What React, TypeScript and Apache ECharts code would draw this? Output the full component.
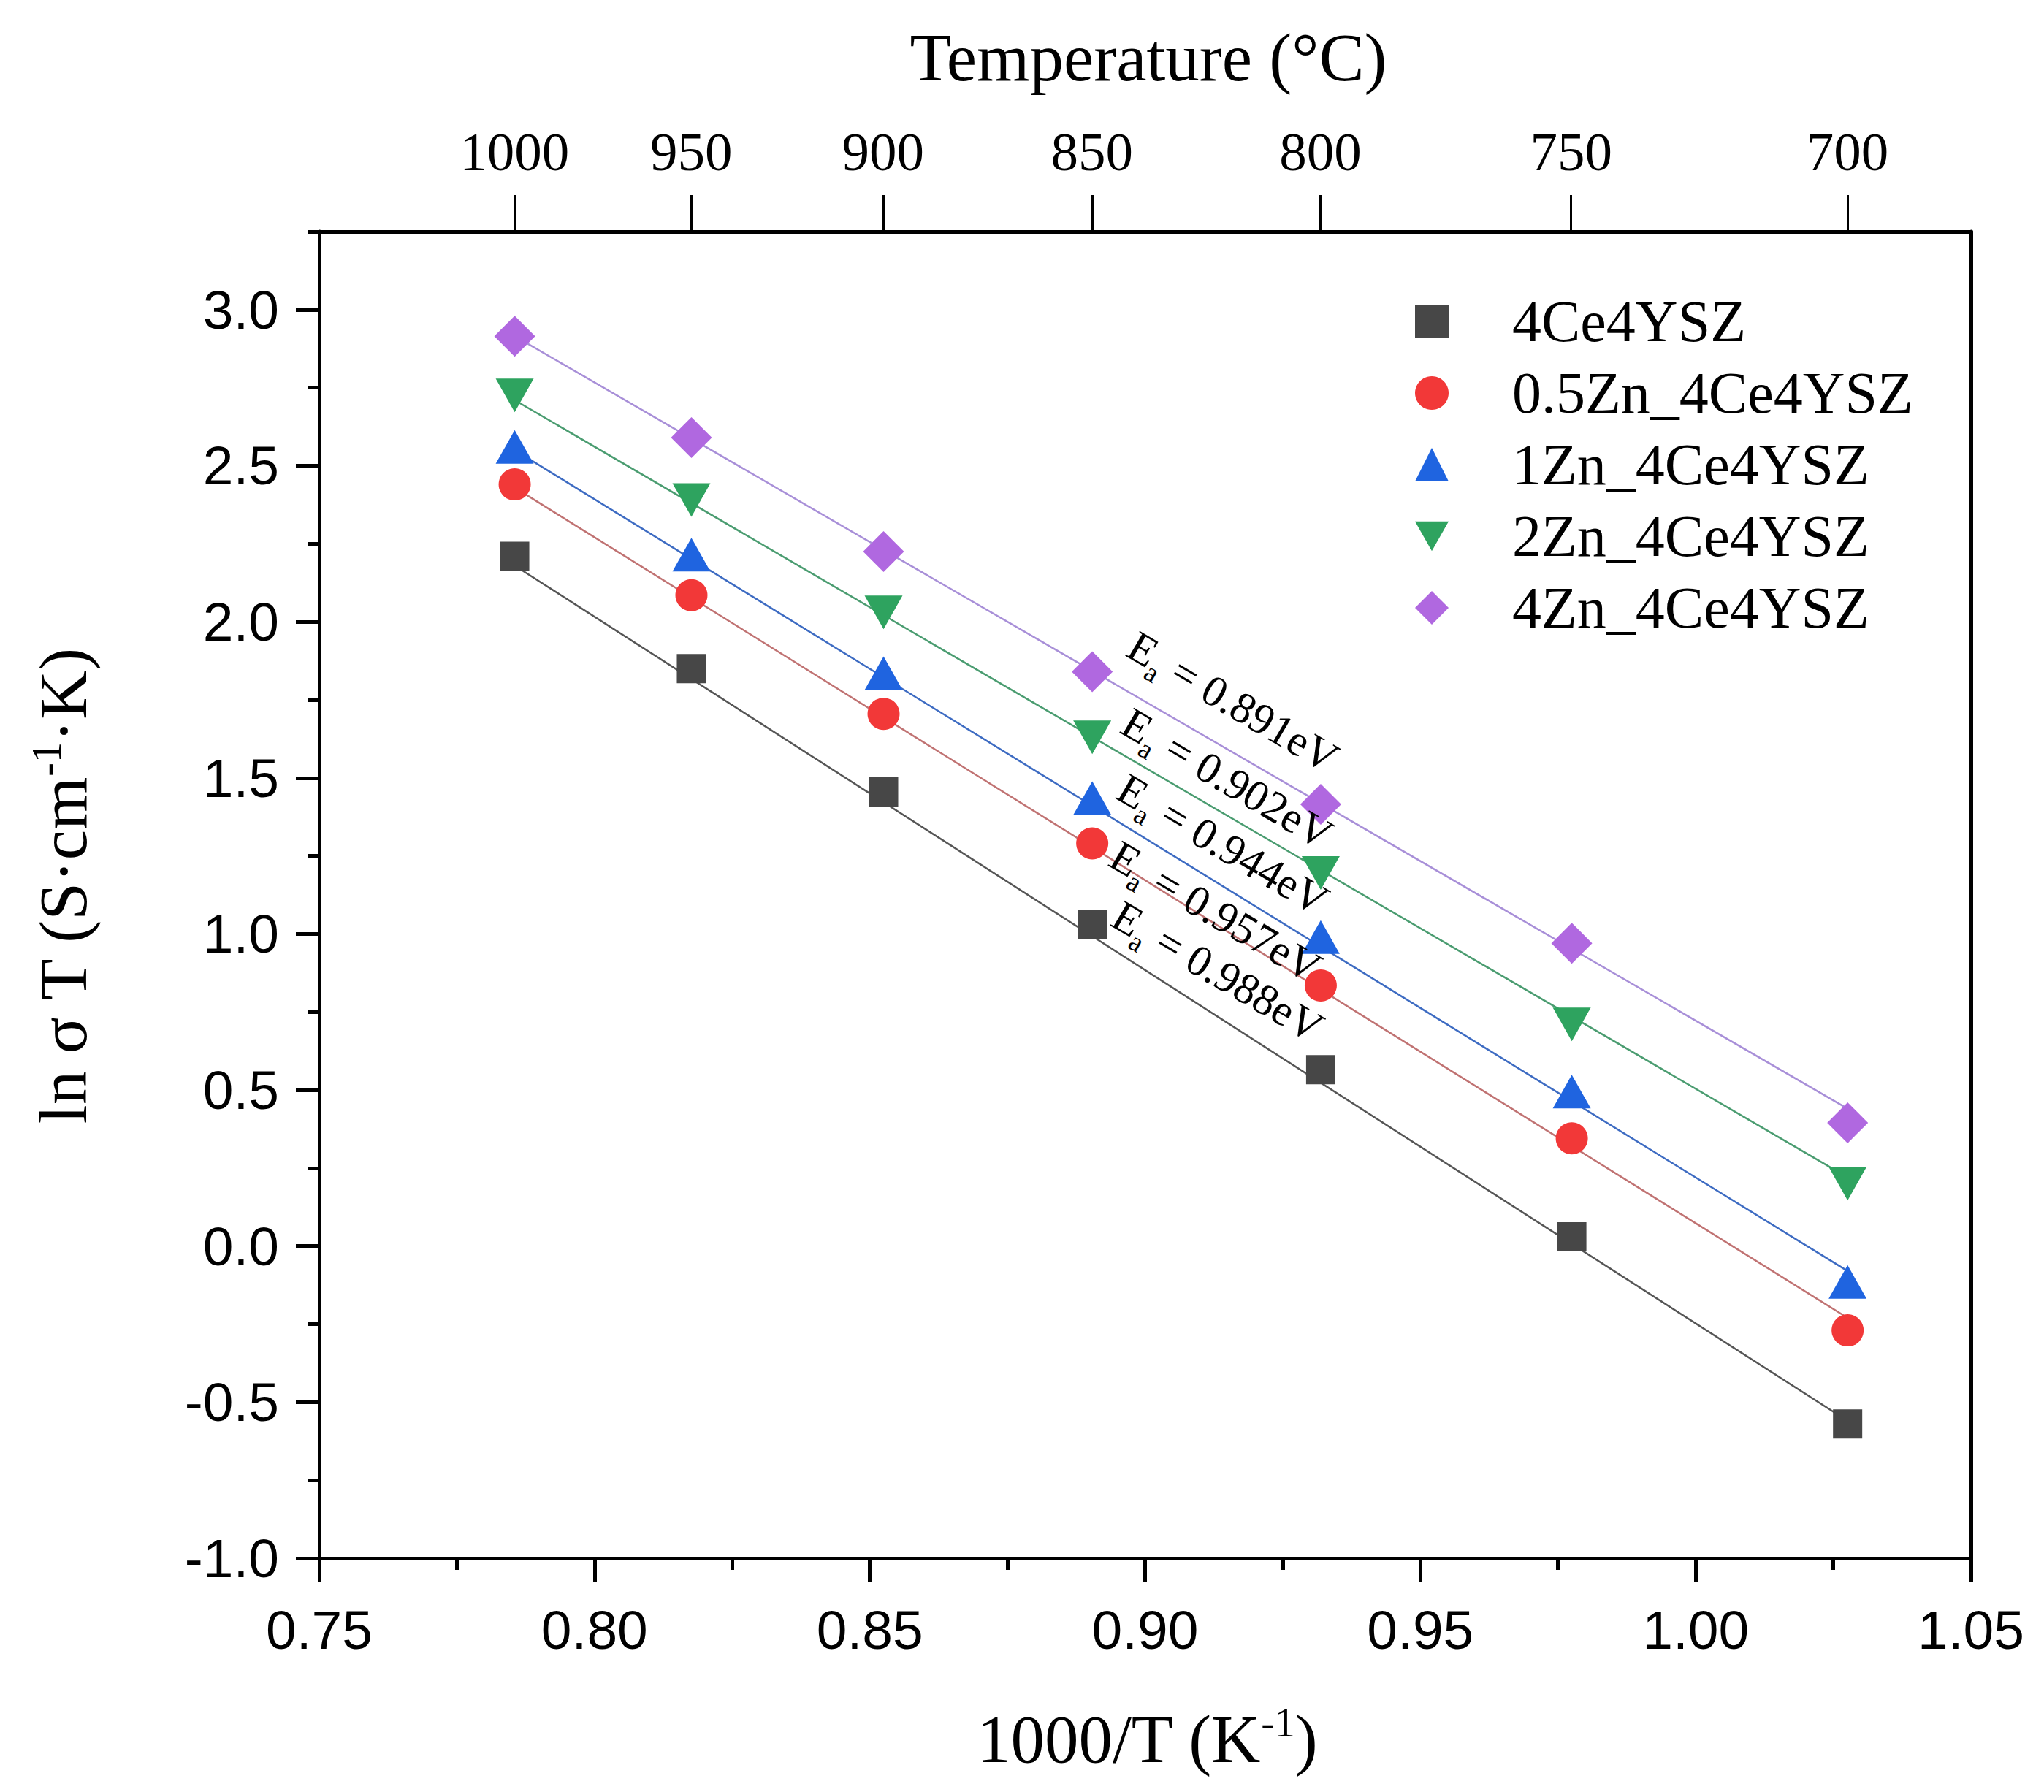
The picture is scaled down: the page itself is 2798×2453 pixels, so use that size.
import * as echarts from "echarts";
import { useEffect, useRef } from "react";

// measured temperatures (°C) and their 1000/T (K^-1)
const temperatures = [1000, 950, 900, 850, 800, 750, 700];
const invT = [0.7855, 0.8176, 0.8525, 0.8904, 0.9319, 0.9775, 1.0276];

const names = ["4Ce4YSZ", "0.5Zn_4Ce4YSZ", "1Zn_4Ce4YSZ", "2Zn_4Ce4YSZ", "4Zn_4Ce4YSZ"];
const ce4ysz = [2.21, 1.85, 1.455, 1.03, 0.565, 0.03, -0.57];
const zn05 = [2.44, 2.085, 1.705, 1.29, 0.835, 0.345, -0.27];
const zn1 = [2.56, 2.215, 1.835, 1.435, 0.99, 0.495, -0.115];
const zn2 = [2.725, 2.39, 2.03, 1.63, 1.195, 0.71, 0.2];
const zn4 = [2.915, 2.59, 2.225, 1.84, 1.415, 0.97, 0.395];

// linear fit ends at first / last 1000/T
const fitStart = [2.18, 2.43, 2.55, 2.71, 2.915];
const fitEnd = [-0.56, -0.23, -0.08, 0.22, 0.44];
const activation = ["0.988", "0.957", "0.944", "0.902", "0.891"];

const yMajor = [-1, -0.5, 0, 0.5, 1, 1.5, 2, 2.5, 3];
const yMinor = [-0.75, -0.25, 0.25, 0.75, 1.25, 1.75, 2.25, 2.75, 3.25];

const markerColors = ["#474747", "#f23838", "#1f64e0", "#2ea35f", "#b068e0"];
const lineColors = ["#555555", "#c07272", "#3d6bc2", "#4a9c70", "#a88fd8"];
const symbols = ["rect", "circle", "triangle", "triangle", "diamond"];
const symbolSizes: any[] = [40, 44, [52, 46], [52, 46], [56, 56]];
const symbolRotates = [0, 0, 0, 180, 0];
const legendIcons = ["rect", "circle", "triangle", "path://M0,0 L52,0 L26,46 Z", "diamond"];

// label centres (px) of the activation energy notes, bottom line first
const notePos = [
  [1667, 1330],
  [1664, 1248],
  [1674, 1156],
  [1680, 1066],
  [1688, 961],
];

const serif = "Liberation Serif";
const sans = "Liberation Sans";

export default function App() {
  const ref = useRef<HTMLDivElement | null>(null);

  useEffect(() => {
    if (!ref.current) return;
    const chart = echarts.init(ref.current, null, { renderer: "svg" });
    const values = [ce4ysz, zn05, zn1, zn2, zn4];

    const scatter = values.map((vals, i) => ({
      name: names[i],
      type: "scatter",
      xAxisIndex: 0,
      yAxisIndex: 0,
      symbol: symbols[i],
      symbolSize: symbolSizes[i],
      symbolRotate: symbolRotates[i],
      itemStyle: { color: markerColors[i], opacity: 1 },
      z: 3,
      data: vals.map((v, j) => [invT[j], v]),
    }));

    const fits = fitStart.map((s, i) => ({
      name: names[i] + " fit",
      type: "line",
      xAxisIndex: 0,
      yAxisIndex: 0,
      showSymbol: false,
      symbol: "none",
      lineStyle: { color: lineColors[i], width: 2.5 },
      z: 1,
      data: [
        [invT[0], s],
        [invT[invT.length - 1], fitEnd[i]],
      ],
    }));

    const notes = activation.map((ea, i) => ({
      type: "text",
      x: notePos[i][0],
      y: notePos[i][1],
      rotation: -0.53,
      z: 10,
      style: {
        text: `{m|E}{s|a}{m| = ${ea}eV}`,
        align: "center",
        verticalAlign: "middle",
        fill: "#000",
        rich: {
          m: { fontFamily: serif, fontSize: 60, lineHeight: 80, fill: "#000" },
          s: { fontFamily: serif, fontSize: 38, lineHeight: 40, verticalAlign: "bottom", fill: "#000" },
        },
      },
    }));

    const axisLine = { show: true, onZero: false, lineStyle: { color: "#000", width: 5 } };

    chart.setOption({
      animation: false,
      backgroundColor: "#fff",
      grid: { left: 437, top: 317, width: 2261, height: 1816, show: false },
      legend: {
        data: names.map((n, i) => ({ name: n, icon: legendIcons[i] })),
        orient: "vertical",
        left: 1937,
        top: 400,
        padding: 0,
        itemWidth: 46,
        itemHeight: 46,
        itemGap: 18,
        textStyle: {
          fontFamily: serif,
          fontSize: 80,
          color: "#000",
          lineHeight: 80,
          padding: [0, 0, 0, 82],
        },
      },
      xAxis: [
        {
          type: "value",
          position: "bottom",
          min: 0.75,
          max: 1.05,
          interval: 0.05,
          axisLine,
          axisTick: { show: true, inside: false, length: 32, lineStyle: { color: "#000", width: 5 } },
          minorTick: { show: true, splitNumber: 2, length: 16, lineStyle: { color: "#000", width: 5 } },
          splitLine: { show: false },
          minorSplitLine: { show: false },
          axisLabel: {
            fontFamily: sans,
            fontSize: 75,
            color: "#000",
            margin: 60,
            formatter: (v: number) => v.toFixed(2),
          },
        },
        {
          type: "value",
          position: "top",
          min: 0.75,
          max: 1.05,
          axisLine,
          axisTick: {
            show: true,
            inside: false,
            length: 50,
            customValues: temperatures.map((t) => 1000 / (t + 273.15)),
            lineStyle: { color: "#000", width: 3 },
          },
          splitLine: { show: false },
          axisLabel: {
            customValues: temperatures.map((t) => 1000 / (t + 273.15)),
            fontFamily: serif,
            fontSize: 75,
            color: "#000",
            margin: 72,
            formatter: (v: number) => String(Math.round(1000 / v - 273.15)),
          },
        },
      ],
      yAxis: [
        {
          type: "value",
          position: "left",
          min: -1,
          max: 3.25,
          interval: 0.5,
          axisLine,
          axisTick: { show: true, inside: false, length: 32, customValues: yMajor, lineStyle: { color: "#000", width: 5 } },
          minorTick: { show: false },
          splitLine: { show: false },
          axisLabel: {
            customValues: yMajor,
            fontFamily: sans,
            fontSize: 75,
            color: "#000",
            margin: 55,
            formatter: (v: number) => v.toFixed(1),
          },
        },
        {
          type: "value",
          position: "left",
          min: -1,
          max: 3.25,
          axisLine: { show: false },
          axisTick: { show: true, inside: false, length: 16, customValues: yMinor, lineStyle: { color: "#000", width: 5 } },
          splitLine: { show: false },
          axisLabel: { show: false },
        },
        {
          type: "value",
          position: "right",
          min: -1,
          max: 3.25,
          axisLine,
          axisTick: { show: false },
          splitLine: { show: false },
          axisLabel: { show: false },
        },
      ],
      graphic: [
        {
          type: "text",
          x: 1572,
          y: 78,
          style: {
            text: "Temperature (°C)",
            fontFamily: serif,
            fontSize: 93,
            fill: "#000",
            align: "center",
            verticalAlign: "middle",
          },
        },
        {
          type: "text",
          x: 1570,
          y: 2380,
          style: {
            text: "{t|1000/T (K}{s|-1}{t|)}",
            align: "center",
            verticalAlign: "middle",
            rich: {
              t: { fontFamily: serif, fontSize: 93, lineHeight: 100, fill: "#000" },
              s: { fontFamily: serif, fontSize: 56, lineHeight: 60, verticalAlign: "top", fill: "#000" },
            },
          },
        },
        {
          type: "text",
          x: 86,
          y: 1213,
          rotation: Math.PI / 2,
          style: {
            text: "{t|ln σ T (S·cm}{s|-1}{t|·K)}",
            align: "center",
            verticalAlign: "middle",
            rich: {
              t: { fontFamily: serif, fontSize: 93, lineHeight: 100, fill: "#000" },
              s: { fontFamily: serif, fontSize: 56, lineHeight: 60, verticalAlign: "top", fill: "#000" },
            },
          },
        },
        ...notes,
      ],
      series: [...fits, ...scatter],
    });

    return () => chart.dispose();
  }, []);

  return (
    <div
      ref={ref}
      style={{ position: "fixed", left: 0, top: 0, width: 2798, height: 2453, background: "#fff" }}
    />
  );
}
